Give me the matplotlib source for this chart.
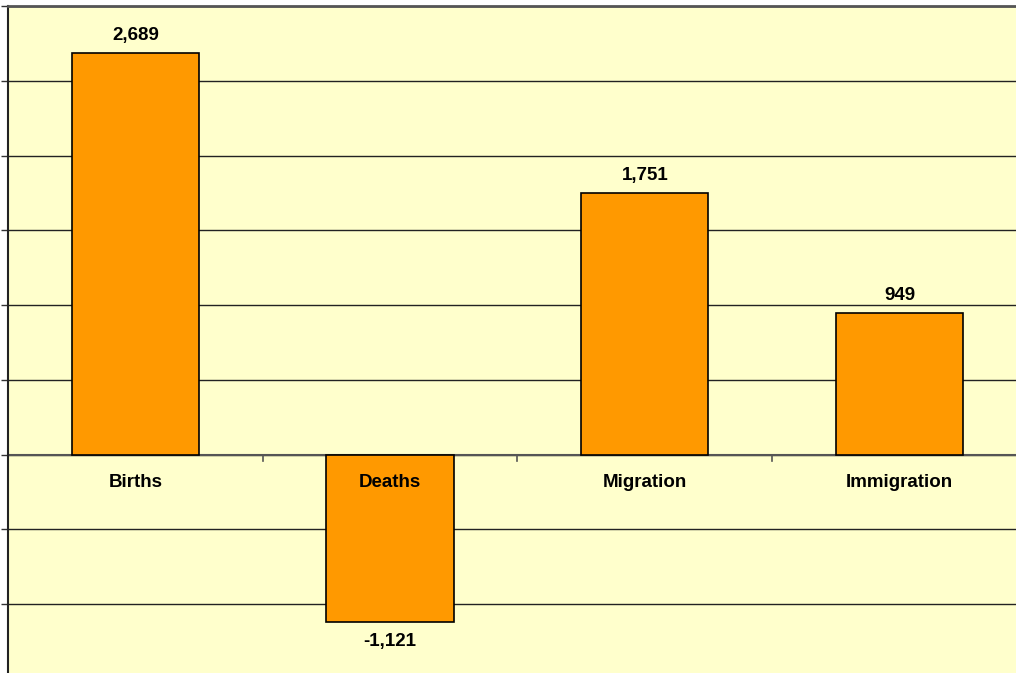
import matplotlib
matplotlib.use("Agg")
import matplotlib.pyplot as plt
from matplotlib.ticker import MultipleLocator

categories = ["Births", "Deaths", "Migration", "Immigration"]
values = [2689, -1121, 1751, 949]
value_labels = ["2,689", "-1,121", "1,751", "949"]

plt.rcParams['font.family'] = ['Liberation Sans', 'DejaVu Sans']

W, H = 1016, 673
fig = plt.figure(figsize=(W / 100, H / 100), dpi=100)
fig.patch.set_facecolor("white")
left = 8 / W
top = 6 / H
ax_h = 673 / H
ax = fig.add_axes([left, 1 - top - ax_h, 1020 / W, ax_h])
ax.set_facecolor("#FFFFCC")

x = list(range(len(categories)))
ax.bar(x, values, width=0.5, color="#FF9900", edgecolor="black", linewidth=1.2, zorder=3)

ax.set_xlim(-0.5, 3.5047)
ax.set_ylim(-1500, 3000)
ax.yaxis.set_major_locator(MultipleLocator(500))
ax.set_yticklabels([])
ax.grid(axis="y", color="#222222", linewidth=1.0, zorder=1)
ax.set_axisbelow(True)
ax.tick_params(axis="y", direction="out", length=5, width=1, color="#333333")

ax.set_xticks([])
ax.axhline(0, color="#555555", linewidth=1.5, zorder=2)
for b in [0.5, 1.5, 2.5]:
    ax.plot([b, b], [0, -40], color="#555555", linewidth=1.2, zorder=2, clip_on=False)

for s in ["right", "bottom"]:
    ax.spines[s].set_visible(False)
ax.spines["left"].set_linewidth(1.5)
ax.spines["left"].set_color("#222222")
ax.spines["top"].set_linewidth(2.0)
ax.spines["top"].set_color("#555555")

fs = 13.5
for i, (v, lab) in enumerate(zip(values, value_labels)):
    if v >= 0:
        ax.annotate(lab, (i, v), xytext=(0, 17), textcoords="offset pixels",
                    ha="center", va="center", fontsize=fs, fontweight="bold")
    else:
        ax.annotate(lab, (i, v), xytext=(0, -19), textcoords="offset pixels",
                    ha="center", va="center", fontsize=fs, fontweight="bold")
    ax.annotate(categories[i], (i, 0), xytext=(0, -28), textcoords="offset pixels",
                ha="center", va="center", fontsize=fs, fontweight="bold", zorder=5)

fig.savefig("out.png", dpi=100, facecolor=fig.get_facecolor())
